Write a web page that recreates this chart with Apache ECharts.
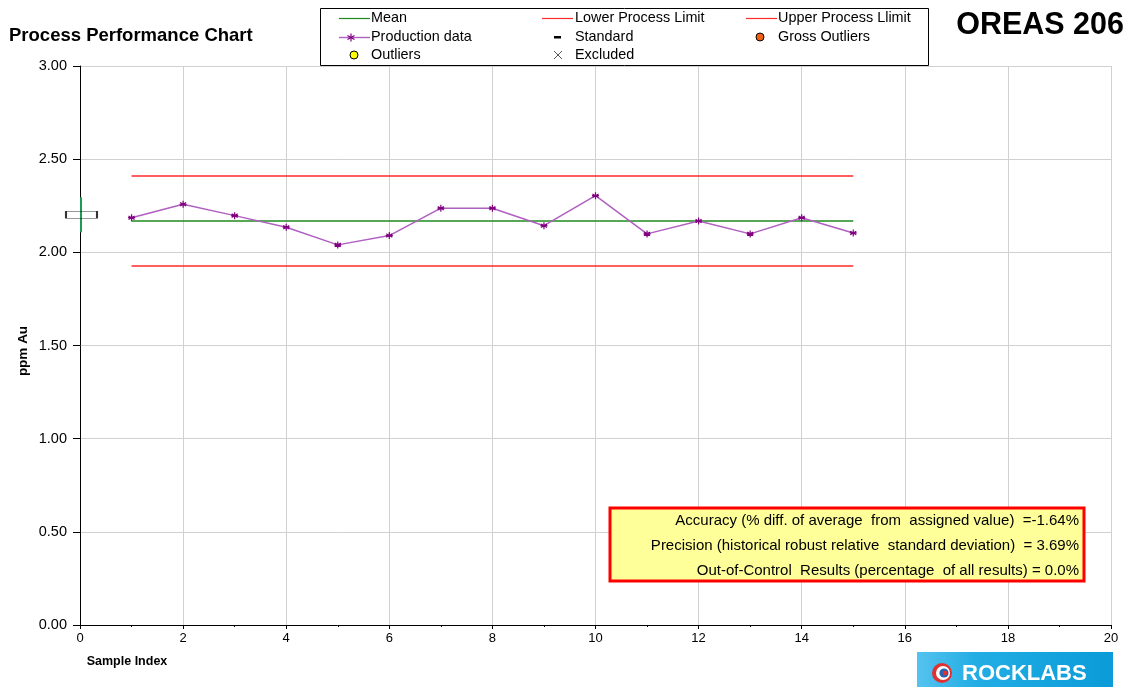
<!DOCTYPE html>
<html>
<head>
<meta charset="utf-8">
<script src="https://cdn.jsdelivr.net/npm/echarts@6/dist/echarts.min.js"></script>
<style>
html,body{margin:0;padding:0;background:#fff;}
#main{width:1128px;height:687px;}
</style>
</head>
<body>
<div id="main"></div>
<script>
// ---- data ----
var sampleIndex = [1,2,3,4,5,6,7,8,9,10,11,12,13,14,15];
var productionData = [2.186,2.258,2.197,2.135,2.040,2.090,2.237,2.237,2.143,2.304,2.099,2.168,2.099,2.186,2.104];
var limitX = [1, 15];
var meanValue = [2.168, 2.168];
var lowerLimit = [1.927, 1.927];
var upperLimit = [2.410, 2.410];
var standardX = [0];
var standardValue = [2.202];
var standardLow = [2.108];
var standardHigh = [2.296];
var statsLines = [
  'Accuracy (% diff. of average  from  assigned value)  =-1.64%',
  'Precision (historical robust relative  standard deviation)  = 3.69%',
  'Out-of-Control  Results (percentage  of all results) = 0.0%'
];

var FONT = '"Liberation Sans", Arial, sans-serif';
var chart = echarts.init(document.getElementById('main'), null, {renderer:'canvas'});

function pairs(xs, ys){ return xs.map(function(x,i){return [x, ys[i]];}); }

var starPath = 'path://M0,-5L0,5M-4.33,-2.5L4.33,2.5M-4.33,2.5L4.33,-2.5M-5,0L5,0';

var legendItems = [];
function seg(x1,y1,x2,y2,color,w){
  legendItems.push({type:'line', shape:{x1:x1,y1:y1,x2:x2,y2:y2}, style:{stroke:color,lineWidth:w||1}});
}
function legendText(x,y,t){
  legendItems.push({type:'text', x:x, y:y, style:{text:t, font:'14.4px '+FONT, fill:'#000', textVerticalAlign:'middle', textAlign:'left'}});
}
legendItems.push({type:'rect', shape:{x:320.5,y:8.5,width:608,height:57}, style:{fill:'#fff',stroke:'#000',lineWidth:1}});
seg(339,18.5,370,18.5,'#1e8a1e',1.2); legendText(371,18,'Mean');
seg(542,18.5,573,18.5,'#ff2a2a',1.2); legendText(575,18,'Lower Process Limit');
seg(746,18.5,777,18.5,'#ff2a2a',1.2); legendText(778,18,'Upper Process Llimit');
seg(339,37.5,370,37.5,'#b060c0',1.4);
seg(351,33.5,351,41.5,'#800080',1.2);
seg(347.5,35.5,354.5,39.5,'#800080',1.2);
seg(347.5,39.5,354.5,35.5,'#800080',1.2);
legendText(371,37,'Production data');
legendItems.push({type:'rect', shape:{x:554,y:36,width:7,height:2.5}, style:{fill:'#000'}});
legendText(575,37,'Standard');
legendItems.push({type:'circle', shape:{cx:760,cy:37,r:4}, style:{fill:'#f06010',stroke:'#000',lineWidth:1}});
legendText(778,37,'Gross Outliers');
legendItems.push({type:'circle', shape:{cx:354,cy:55,r:4}, style:{fill:'#ffff00',stroke:'#000',lineWidth:1}});
legendText(371,55,'Outliers');
seg(554,51,562,59,'#555');
seg(554,59,562,51,'#555');
legendText(575,55,'Excluded');

var graphics = legendItems.concat([
  {type:'text', x:9, y:36, style:{text:'Process Performance Chart', font:'bold 18.5px '+FONT, fill:'#000', textVerticalAlign:'middle'}},
  {type:'text', x:1124, y:26, style:{text:'OREAS 206', font:'bold 30.5px '+FONT, fill:'#000', textVerticalAlign:'middle', textAlign:'right'}},
  {type:'text', x:23, y:351, rotation:Math.PI/2, style:{text:'ppm Au', font:'bold 13.5px '+FONT, fill:'#000', textAlign:'center', textVerticalAlign:'middle'}},
  {type:'text', x:127, y:662, style:{text:'Sample Index', font:'bold 12.5px '+FONT, fill:'#000', textAlign:'center', textVerticalAlign:'middle'}},
  {type:'rect', shape:{x:610,y:508,width:474,height:73}, style:{fill:'#ffff99',stroke:'#ff0000',lineWidth:3}},
  {type:'text', x:1079, y:521, style:{text:statsLines[0], font:'15px '+FONT, fill:'#000', textAlign:'right', textVerticalAlign:'middle'}},
  {type:'text', x:1079, y:546, style:{text:statsLines[1], font:'15px '+FONT, fill:'#000', textAlign:'right', textVerticalAlign:'middle'}},
  {type:'text', x:1079, y:571, style:{text:statsLines[2], font:'15px '+FONT, fill:'#000', textAlign:'right', textVerticalAlign:'middle'}},
  {type:'rect', shape:{x:917,y:652,width:196,height:35}, style:{fill:new echarts.graphic.LinearGradient(0,0,1,0,[{offset:0,color:'#55c3ef'},{offset:0.3,color:'#22ade4'},{offset:1,color:'#0a9bd8'}])}},
  {type:'circle', shape:{cx:942,cy:673,r:10}, style:{fill:'#e03030'}},
  {type:'circle', shape:{cx:943,cy:673,r:7}, style:{fill:'#ffffff'}},
  {type:'circle', shape:{cx:944,cy:673,r:4.6}, style:{fill:'#2a62b0'}},
  {type:'circle', shape:{cx:945,cy:673,r:2.2}, style:{fill:'#e03030'}},
  {type:'text', x:962, y:674, style:{text:'ROCKLABS', font:'bold 22px '+FONT, fill:'#fff', textVerticalAlign:'middle'}}
]).map(function(g){ g.z = 100; return g; });

var option = {
  animation:false,
  backgroundColor:'#fff',
  grid:{left:80, right:17, top:66, bottom:62, containLabel:false},
  xAxis:{
    type:'value', min:0, max:20, interval:2,
    axisLine:{show:true, onZero:false, lineStyle:{color:'#000',width:1}},
    axisTick:{show:true, length:4, lineStyle:{color:'#000'}},
    minorTick:{show:true, splitNumber:2, length:2, lineStyle:{color:'#000'}},
    axisLabel:{color:'#000', fontSize:13, fontFamily:FONT, margin:7},
    splitLine:{show:true, lineStyle:{color:'#d0d0d0',width:1}}
  },
  yAxis:{
    type:'value', min:0, max:3, interval:0.5,
    axisLine:{show:true, onZero:false, lineStyle:{color:'#000',width:1}},
    axisTick:{show:true, length:7, lineStyle:{color:'#000'}},
    axisLabel:{color:'#000', fontSize:14.5, fontFamily:FONT, margin:13, formatter:function(v){return v.toFixed(2);}},
    splitLine:{show:true, lineStyle:{color:'#d0d0d0',width:1}}
  },
  graphic: graphics,
  series:[
    {name:'Mean', type:'line', data:pairs(limitX, meanValue), symbol:'none', lineStyle:{color:'#1e8a1e',width:1.5}, z:3},
    {name:'Lower Process Limit', type:'line', data:pairs(limitX, lowerLimit), symbol:'none', lineStyle:{color:'#ff2a2a',width:1.5}, z:3},
    {name:'Upper Process Llimit', type:'line', data:pairs(limitX, upperLimit), symbol:'none', lineStyle:{color:'#ff2a2a',width:1.5}, z:3},
    {name:'Production data', type:'line', data:pairs(sampleIndex, productionData),
      symbol:starPath, symbolSize:7,
      itemStyle:{color:'#800080', borderColor:'#800080', borderWidth:1.2},
      lineStyle:{color:'#b060c0',width:1.5}, z:4},
    {name:'StandardRange', type:'custom', z:5, clip:false,
      data: standardX.map(function(x,i){return [x, standardLow[i], standardHigh[i]];}),
      renderItem:function(params, api){
        var lo = api.coord([api.value(0), api.value(1)]);
        var hi = api.coord([api.value(0), api.value(2)]);
        return {type:'line', shape:{x1:lo[0]+1,y1:lo[1],x2:hi[0]+1,y2:hi[1]}, style:{stroke:'#1f9a55',lineWidth:2}};
      }
    },
    {name:'Standard', type:'scatter', clip:false, data:pairs(standardX, standardValue), symbol:'rect', symbolSize:[31,7], symbolOffset:[1.5,0],
      itemStyle:{color:'rgba(255,255,255,0)', borderColor:'#000', borderWidth:1}, z:6}
  ]
};
chart.setOption(option);
</script>
</body>
</html>
